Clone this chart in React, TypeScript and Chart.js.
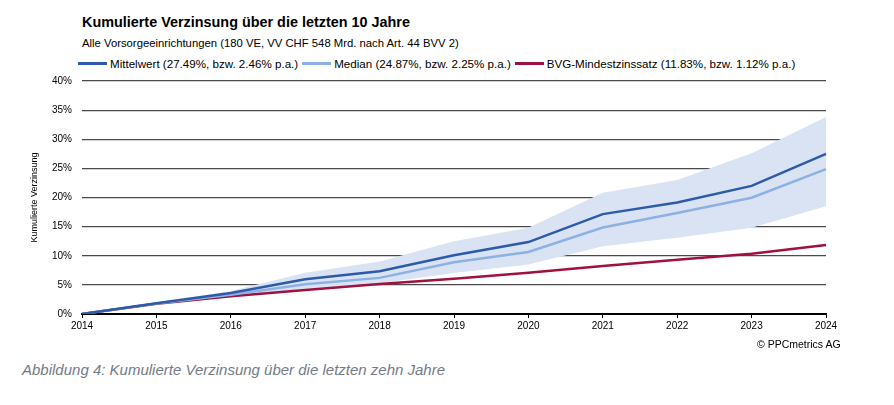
import React, { useEffect, useRef } from "react";
import { Chart, registerables } from "chart.js";

Chart.register(...registerables);

const years = ["2014", "2015", "2016", "2017", "2018", "2019", "2020", "2021", "2022", "2023", "2024"];
const mittelwert = [0, 1.85, 3.6, 5.95, 7.35, 10.1, 12.35, 17.15, 19.15, 22.0, 27.49];
const median = [0, 1.8, 3.3, 5.1, 6.2, 8.9, 10.65, 14.85, 17.35, 19.95, 24.87];
const bvg = [0, 1.75, 3.05, 4.1, 5.15, 6.05, 7.1, 8.25, 9.3, 10.35, 11.83];
const bandLower = [0, 1.75, 3.1, 4.3, 5.3, 7.05, 8.5, 11.65, 13.1, 14.8, 18.5];
const bandUpper = [0, 1.95, 3.95, 7.1, 9.0, 12.5, 14.8, 20.8, 23.0, 27.6, 33.8];
const yTicks = [0, 5, 10, 15, 20, 25, 30, 35, 40];

const legendItems = [
  { label: "Mittelwert (27.49%, bzw. 2.46% p.a.)", color: "#2d5ba9" },
  { label: "Median (24.87%, bzw. 2.25% p.a.)", color: "#8db1e3" },
  { label: "BVG-Mindestzinssatz (11.83%, bzw. 1.12% p.a.)", color: "#a0123d" },
];

const FONT = "'Liberation Sans', Arial, sans-serif";

export default function App() {
  const ref = useRef<HTMLCanvasElement | null>(null);

  useEffect(() => {
    document.body.style.margin = "0";
    const ctx = ref.current!;
    const chart = new Chart(ctx, {
      type: "line",
      data: {
        labels: years,
        datasets: [
          { data: mittelwert, borderColor: "#2d5ba9", borderWidth: 2.5, pointRadius: 0, fill: false, tension: 0 },
          { data: median, borderColor: "#8db1e3", borderWidth: 2.5, pointRadius: 0, fill: false, tension: 0 },
          { data: bvg, borderColor: "#a0123d", borderWidth: 2.5, pointRadius: 0, fill: false, tension: 0 },
          { data: bandLower, borderWidth: 0, borderColor: "rgba(0,0,0,0)", pointRadius: 0, fill: false },
          { data: bandUpper, borderWidth: 0, borderColor: "rgba(0,0,0,0)", pointRadius: 0, fill: "-1", backgroundColor: "#dae3f3" },
        ],
      },
      options: {
        animation: false,
        responsive: false,
        maintainAspectRatio: false,
        layout: { padding: { top: 5, left: 25, right: 68, bottom: 0 } },
        plugins: { legend: { display: false }, tooltip: { enabled: false } },
        scales: {
          x: {
            type: "category",
            offset: false,
            grid: { drawOnChartArea: false, drawTicks: true, tickLength: 4, color: "#000", lineWidth: 1 },
            border: { color: "#000", width: 2 },
            ticks: { color: "#000", font: { family: FONT, size: 10 }, padding: 2, maxRotation: 0, autoSkip: false },
            afterFit: (s: any) => { s.height = 26; },
          },
          y: {
            min: 0,
            max: 40,
            afterBuildTicks: (s: any) => { s.ticks = yTicks.map((v) => ({ value: v })); },
            grid: { drawTicks: false, color: "#4a4a4a", lineWidth: 1.2 },
            border: { display: false },
            ticks: {
              color: "#000",
              font: { family: FONT, size: 10 },
              padding: 10,
              callback: (v: any) => v + "%",
            },
            title: { display: true, text: "Kumulierte Verzinsung", color: "#000", font: { family: FONT, size: 9 }, padding: 4 },
            afterFit: (s: any) => { s.width = 57; },
          },
        },
      },
    });
    return () => chart.destroy();
  }, []);

  return (
    <div style={{ position: "relative", width: 894, height: 405, fontFamily: FONT, background: "#fff", overflow: "hidden" }}>
      <div style={{ position: "absolute", left: 82, top: 14, fontSize: 14.4, fontWeight: "bold", color: "#000", whiteSpace: "nowrap" }}>
        Kumulierte Verzinsung über die letzten 10 Jahre
      </div>
      <div style={{ position: "absolute", left: 82, top: 37, fontSize: 11.3, color: "#000", whiteSpace: "nowrap" }}>
        Alle Vorsorgeeinrichtungen (180 VE, VV CHF 548 Mrd. nach Art. 44 BVV 2)
      </div>
      <div style={{ position: "absolute", left: 78, top: 57, display: "flex", alignItems: "center", fontSize: 11.6, color: "#000", whiteSpace: "nowrap" }}>
        {legendItems.map((it, i) => (
          <div key={i} style={{ display: "flex", alignItems: "center", marginRight: 4 }}>
            <div style={{ width: 29, height: 2.5, background: it.color, marginRight: 3 }} />
            <span>{it.label}</span>
          </div>
        ))}
      </div>
      <canvas ref={ref} width={894} height={275} style={{ position: "absolute", left: 0, top: 65, width: 894, height: 275 }} />
      <div style={{ position: "absolute", left: 757, top: 338, fontSize: 10.5, color: "#000", whiteSpace: "nowrap" }}>
        © PPCmetrics AG
      </div>
      <div style={{ position: "absolute", left: 22, top: 361, fontSize: 15, fontStyle: "italic", color: "#737b87", whiteSpace: "nowrap" }}>
        Abbildung 4: Kumulierte Verzinsung über die letzten zehn Jahre
      </div>
    </div>
  );
}
